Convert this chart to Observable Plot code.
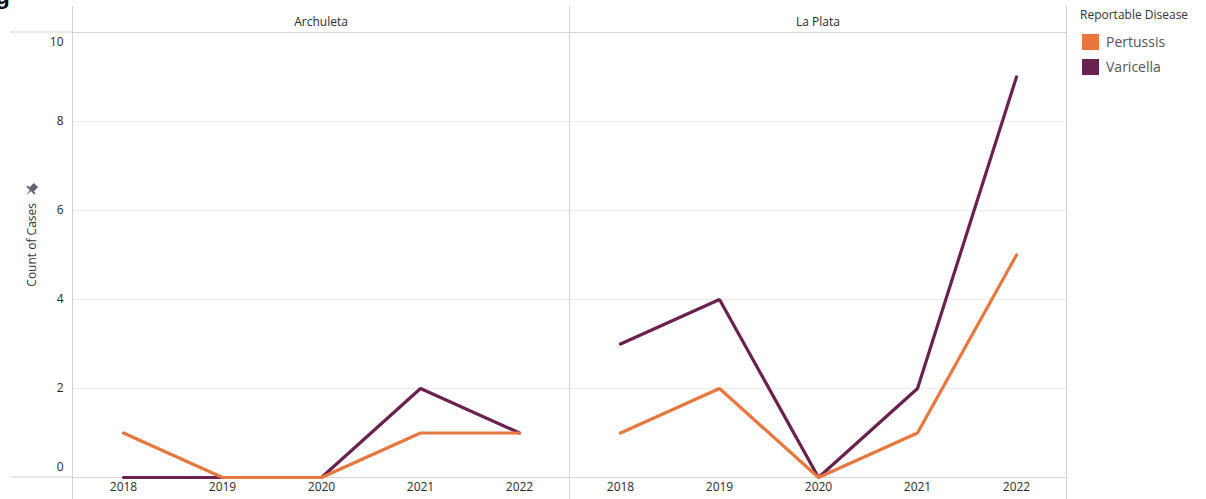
<!DOCTYPE html>
<html>
<head>
<meta charset="utf-8">
<script src="https://cdn.jsdelivr.net/npm/d3@7"></script>
<script src="https://cdn.jsdelivr.net/npm/@observablehq/plot@0.6"></script>
<style>
  html, body { margin: 0; padding: 0; background: #fff; }
  #wrap { position: relative; width: 1206px; height: 499px; overflow: hidden; font-family: "Open Sans", sans-serif; }
  #legend { position: absolute; left: 1080px; top: 6px; }
  #legend .title { font-size: 12px; color: #333; line-height: 18px; margin-bottom: 5px; }
  #legend .item { display: flex; align-items: center; height: 25px; }
  #legend .sw { width: 17px; height: 16px; margin-left: 2px; margin-right: 7px; }
  #legend .lab { font-size: 14px; color: #555; }
</style>
</head>
<body>
<div id="wrap"></div>
<script>
// ---- data ----
const years = ["2018", "2019", "2020", "2021", "2022"];
const counties = ["Archuleta", "La Plata"];
const diseases = ["Pertussis", "Varicella"];
const pertussisArchuleta = [1, 0, 0, 1, 1];
const varicellaArchuleta = [0, 0, 0, 2, 1];
const pertussisLaPlata = [1, 2, 0, 1, 5];
const varicellaLaPlata = [3, 4, 0, 2, 9];
const yTicks = [0, 2, 4, 6, 8, 10];
const colors = ["#E8773D", "#6A2150"];

const series = [
  ["Archuleta", "Varicella", varicellaArchuleta],
  ["La Plata", "Varicella", varicellaLaPlata],
  ["Archuleta", "Pertussis", pertussisArchuleta],
  ["La Plata", "Pertussis", pertussisLaPlata]
];
const rows = [];
for (const [county, disease, vals] of series) {
  vals.forEach((v, i) => rows.push({county, disease, year: years[i], count: v}));
}

const gridColor = "#d3d3d3";
const axisOpts = {anchor: "left", tickSize: 0, tickPadding: 9, label: null, fontSize: 12, fill: "#2a2a2a"};

const chart = Plot.plot({
  width: 1206,
  height: 499,
  marginTop: 32,
  marginBottom: 22,
  marginLeft: 72,
  marginRight: 140,
  style: {fontFamily: "Open Sans, sans-serif", fontSize: "12px", color: "#333", background: "white"},
  fx: {domain: counties, padding: 0, label: null, axis: null},
  x: {type: "point", domain: years, padding: 0.5, axis: null},
  y: {domain: [0, 10], axis: null},
  color: {domain: diseases, range: colors},
  marks: [
    Plot.gridY(yTicks.slice(1, -1), {stroke: "#ececec", strokeOpacity: 1}),
    Plot.frame({anchor: "left", stroke: gridColor, strokeOpacity: 1, insetTop: -26, insetBottom: -22}),
    Plot.frame({anchor: "right", stroke: gridColor, strokeOpacity: 1, insetTop: -26, insetBottom: -22}),
    Plot.ruleY([0, 10], {stroke: gridColor}),
    Plot.axisFx({anchor: "top", tickSize: 0, tickPadding: 7, label: null, fontSize: 12, fill: "#2a2a2a"}),
    Plot.axisX({anchor: "bottom", tickSize: 0, tickPadding: 5, label: null, fontSize: 12, fill: "#2a2a2a"}),
    Plot.axisY(yTicks.slice(1, -1), axisOpts),
    Plot.axisY([yTicks[0]], {...axisOpts, dy: -10}),
    Plot.axisY([yTicks[yTicks.length - 1]], {...axisOpts, dy: 10}),
    Plot.lineY(rows, {x: "year", y: "count", fx: "county", z: "disease", stroke: "disease", strokeWidth: 3.2, strokeLinejoin: "miter"})
  ]
});

document.getElementById("wrap").appendChild(chart);

// extras drawn with d3, positioned from the plot's scales
const svg = d3.select(chart);
const ys = chart.scale("y");
for (const v of [0, 10]) {
  svg.append("line").attr("x1", 10).attr("x2", 72)
    .attr("y1", ys.apply(v)).attr("y2", ys.apply(v))
    .attr("stroke", gridColor);
}
// y-axis title
svg.append("text")
  .attr("transform", "translate(36,203) rotate(-90)")
  .attr("text-anchor", "end")
  .attr("font-family", "Open Sans, sans-serif")
  .attr("font-size", 12)
  .attr("fill", "#333")
  .text("Count of Cases");
// pin icon
const pin = svg.append("g").attr("transform", "translate(31,190) rotate(45)").attr("fill", "#5f6670");
pin.append("rect").attr("x", -3).attr("y", -7).attr("width", 6).attr("height", 7);
pin.append("rect").attr("x", -5.5).attr("y", -1).attr("width", 11).attr("height", 2);
pin.append("path").attr("d", "M-0.8,1 L0.8,1 L0,7 Z");
// clipped title at the very top
svg.append("text")
  .attr("x", -8).attr("y", 4)
  .attr("font-family", "Liberation Sans, Arial, sans-serif")
  .attr("font-weight", "bold")
  .attr("font-size", 24)
  .attr("fill", "#111")
  .text("Fig");

// legend
const legend = document.createElement("div");
legend.id = "legend";
legend.innerHTML = `<div class="title">Reportable Disease</div>` +
  diseases.map((d, i) => `<div class="item"><div class="sw" style="background:${colors[i]}"></div><span class="lab">${d}</span></div>`).join("");
document.getElementById("wrap").appendChild(legend);
</script>
</body>
</html>
